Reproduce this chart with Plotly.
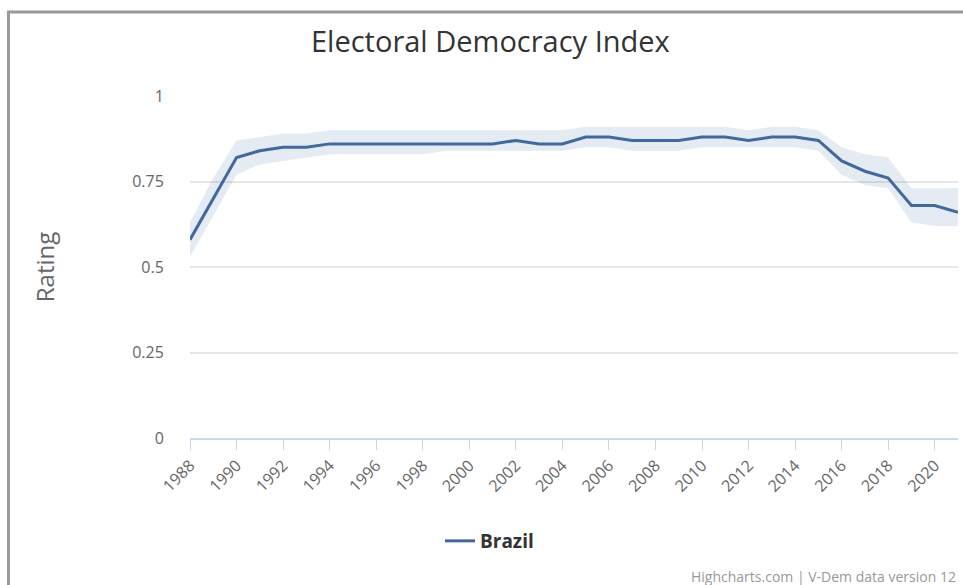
import plotly.graph_objects as go

years = list(range(1988, 2022))
rating = [0.58, 0.70, 0.82, 0.84, 0.85, 0.85, 0.86, 0.86, 0.86, 0.86, 0.86, 0.86,
          0.86, 0.86, 0.87, 0.86, 0.86, 0.88, 0.88, 0.87, 0.87, 0.87, 0.88, 0.88,
          0.87, 0.88, 0.88, 0.87, 0.81, 0.78, 0.76, 0.68, 0.68, 0.66]
upper = [0.63, 0.76, 0.87, 0.88, 0.89, 0.89, 0.90, 0.90, 0.90, 0.90, 0.90, 0.90,
         0.90, 0.90, 0.90, 0.90, 0.90, 0.91, 0.91, 0.91, 0.91, 0.91, 0.91, 0.91,
         0.90, 0.91, 0.91, 0.90, 0.85, 0.83, 0.82, 0.73, 0.73, 0.73]
lower = [0.53, 0.65, 0.77, 0.80, 0.81, 0.82, 0.83, 0.83, 0.83, 0.83, 0.83, 0.84,
         0.84, 0.84, 0.84, 0.84, 0.84, 0.85, 0.85, 0.84, 0.84, 0.84, 0.85, 0.85,
         0.85, 0.85, 0.85, 0.84, 0.77, 0.74, 0.73, 0.63, 0.62, 0.62]
y_ticks = [0, 0.25, 0.5, 0.75, 1]
y_tick_text = ["0", "0.25", "0.5", "0.75", "1"]
x_ticks = list(range(1988, 2021, 2))

W, H = 963, 585
ML, MR, MT, MB = 190, 5, 96, 147
pw = W - ML - MR
ph = H - MT - MB

def px(x):
    return (x - ML) / pw

def py(y):
    return (H - MB - y) / ph

line_color = "#42699c"
band_color = "rgba(69,114,167,0.14)"

fig = go.Figure()
fig.add_trace(go.Scatter(x=years, y=upper, mode="lines", line=dict(width=0, color=band_color),
                         showlegend=False, hoverinfo="skip"))
fig.add_trace(go.Scatter(x=years, y=lower, mode="lines", line=dict(width=0, color=band_color),
                         fill="tonexty", fillcolor=band_color, showlegend=False, hoverinfo="skip"))
fig.add_trace(go.Scatter(x=years, y=rating, mode="lines", name="<b>Brazil</b>",
                         line=dict(color=line_color, width=3)))

fig.update_layout(
    width=W, height=H,
    margin=dict(l=ML, r=MR, t=MT, b=MB),
    paper_bgcolor="white", plot_bgcolor="white",
    font=dict(family="Open Sans, Noto Sans, sans-serif", color="#666666"),
    showlegend=True,
    legend=dict(orientation="h", x=px(440), xanchor="left", y=py(541), yanchor="middle",
                font=dict(size=19, color="#333333"), itemwidth=30),
    xaxis=dict(range=[1988, 2021], tickmode="array", tickvals=x_ticks,
               ticktext=[str(v) for v in x_ticks], tickangle=-45,
               showgrid=False, showline=True, linecolor="#ccd6eb", linewidth=2,
               ticks="outside", ticklen=10, tickcolor="#ccd6eb", tickwidth=1,
               tickfont=dict(size=16, color="#666666"), zeroline=False, fixedrange=True),
    yaxis=dict(range=[0, 1], tickmode="array", tickvals=y_ticks, ticktext=y_tick_text,
               showgrid=True, gridcolor="#e6e6e6", gridwidth=2, zeroline=False,
               showline=False, ticks="outside", ticklen=22, tickcolor="rgba(0,0,0,0)",
               tickfont=dict(size=16, color="#666666"),
               title=dict(text="Rating", font=dict(size=24, color="#666666"), standoff=70)),
    annotations=[
        dict(text="Electoral Democracy Index", xref="paper", yref="paper",
             x=px(490), y=py(40), xanchor="center", yanchor="middle", showarrow=False,
             font=dict(size=29, color="#333333", family="Open Sans, sans-serif")),
        dict(text="Highcharts.com | V-Dem data version 12", xref="paper", yref="paper",
             x=px(958), y=py(576), xanchor="right", yanchor="middle", showarrow=False,
             font=dict(size=14, color="#999999")),
    ],
    shapes=[
        dict(type="line", xref="paper", yref="paper", x0=px(7), x1=px(963), y0=py(12), y1=py(12),
             line=dict(color="#999999", width=3)),
        dict(type="line", xref="paper", yref="paper", x0=px(8.5), x1=px(8.5), y0=py(11), y1=py(585),
             line=dict(color="#999999", width=3)),
    ],
)

fig.write_html("out.html", config={"displayModeBar": False},
               post_script="document.body.style.margin='0';document.body.style.overflow='hidden';")
